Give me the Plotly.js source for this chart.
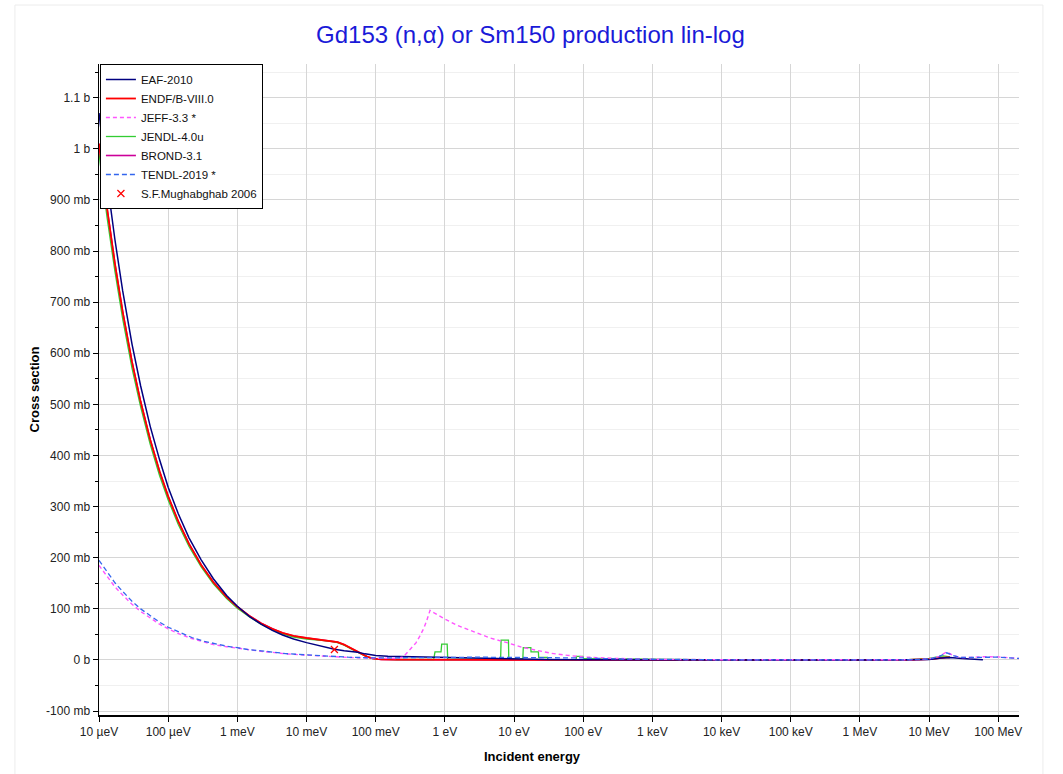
<!DOCTYPE html>
<html><head><meta charset="utf-8">
<script src="https://cdn.plot.ly/plotly-3.0.1.min.js"></script>
<style>html,body{margin:0;padding:0;background:#fff}#chart{width:1063px;height:774px}</style>
</head><body><div id="chart"></div>
<script>
// ---- data (energies in eV, cross sections in barns) ----
const xTickVals = [1e-5,1e-4,1e-3,1e-2,1e-1,1,10,100,1e3,1e4,1e5,1e6,1e7,1e8];
const xTickText = ['10 µeV','100 µeV','1 meV','10 meV','100 meV','1 eV','10 eV','100 eV','1 keV','10 keV','100 keV','1 MeV','10 MeV','100 MeV'];
const yTickVals = [-0.1,0,0.1,0.2,0.3,0.4,0.5,0.6,0.7,0.8,0.9,1.0,1.1];
const yTickText = ['-100 mb','0 b','100 mb','200 mb','300 mb','400 mb','500 mb','600 mb','700 mb','800 mb','900 mb','1 b','1.1 b'];

const eafE  = [1e-5,1.3e-5,1.7e-5,2.2e-5,3e-5,4e-5,5.5e-5,7.5e-5,1e-4,1.4e-4,2e-4,3e-4,4.5e-4,7e-4,1e-3,1.5e-3,2.2e-3,3.2e-3,4.5e-3,6.5e-3,1e-2,1.5e-2,2.53e-2,3.5e-2,4.5e-2,5.5e-2,7e-2,0.1,0.15,0.25,0.5,1,3,10,30,100,1e3,1e4,1e5,1e6,5e6,1e7,1.5e7,2e7,3e7,6e7];
const eafXS = [1.07,0.94,0.822,0.722,0.618,0.536,0.457,0.392,0.338,0.286,0.239,0.196,0.159,0.126,0.105,0.085,0.070,0.058,0.049,0.041,0.034,0.028,0.021,0.018,0.0165,0.015,0.012,0.009,0.0075,0.0068,0.006,0.005,0.0035,0.002,0.001,0.0005,0.0001,0,0,0,0.0003,0.0012,0.004,0.005,0.003,0.0005];

const endfE  = [1e-5,1.3e-5,1.7e-5,2.2e-5,3e-5,4e-5,5.5e-5,7.5e-5,1e-4,1.4e-4,2e-4,3e-4,4.5e-4,7e-4,1e-3,1.5e-3,2.2e-3,3.2e-3,4.5e-3,6.5e-3,1e-2,1.5e-2,2.2e-2,2.8e-2,3.5e-2,4.5e-2,5.5e-2,6.5e-2,7.5e-2,9e-2,0.12,0.2,0.5,1,10,100,1e3,1e4,1e5,1e6,5e6,1e7,1.4e7,1.8e7,2e7];
const endfXS = [1.01,0.886,0.775,0.681,0.583,0.505,0.431,0.369,0.320,0.271,0.227,0.186,0.152,0.123,0.104,0.086,0.072,0.061,0.053,0.047,0.043,0.040,0.038,0.035,0.030,0.022,0.016,0.010,0.0065,0.003,0.0012,0.0006,0.0003,0.0002,0.0001,0.00005,0,0,0,0,0.0004,0.0015,0.004,0.005,0.005];

const jeffE  = [1e-5,1.3e-5,1.7e-5,2.2e-5,3e-5,4e-5,5.5e-5,7.5e-5,1e-4,1.5e-4,2.2e-4,3.2e-4,4.5e-4,7e-4,1e-3,1.5e-3,2.2e-3,3.2e-3,5e-3,1e-2,2e-2,4e-2,0.1,0.2,0.25,0.31,0.38,0.44,0.5,0.55,0.61,0.7,0.8,1,1.5,2.6,4.5,7.9,13,21,35,60,100,300,1e3,1e4,1e5,1e6,5e6,1e7,1.4e7,1.8e7,2.2e7,2.8e7,4e7,6e7,1e8,2e8];
const jeffXS = [0.185,0.163,0.143,0.127,0.109,0.095,0.082,0.070,0.061,0.050,0.042,0.035,0.030,0.026,0.023,0.019,0.017,0.015,0.012,0.0095,0.007,0.005,0.0035,0.003,0.006,0.02,0.033,0.048,0.063,0.078,0.097,0.092,0.087,0.080,0.068,0.055,0.043,0.034,0.025,0.019,0.013,0.009,0.006,0.003,0.0015,0.0005,0.0002,0.0001,0.0004,0.002,0.007,0.016,0.009,0.005,0.005,0.0065,0.006,0.003];

const jendlE  = [1e-5,1.3e-5,1.7e-5,2.2e-5,3e-5,4e-5,5.5e-5,7.5e-5,1e-4,1.4e-4,2e-4,3e-4,4.5e-4,7e-4,1e-3,1.5e-3,2.2e-3,3.2e-3,4.5e-3,6.5e-3,1e-2,1.5e-2,2.2e-2,2.8e-2,3.5e-2,4.5e-2,5.5e-2,6.5e-2,7.5e-2,9e-2,0.12,0.2,0.3,0.69,0.72,0.88,0.9,1.08,1.1,3,6.4,6.5,8.3,8.4,13.4,13.6,17.5,17.6,22.5,22.7,30.5,31,45,79,80,99,101,200,500,1e3,1e4,1e5,1e6,5e6,1e7,1.3e7,1.6e7,2e7];
const jendlXS = [0.99,0.868,0.760,0.667,0.571,0.495,0.422,0.361,0.313,0.265,0.222,0.182,0.149,0.120,0.101,0.084,0.070,0.059,0.051,0.045,0.041,0.039,0.037,0.034,0.029,0.021,0.015,0.0095,0.006,0.003,0.0015,0.001,0.0008,0.001,0.016,0.016,0.031,0.031,0.001,0.0008,0.002,0.039,0.039,0.002,0.002,0.024,0.024,0.016,0.016,0.005,0.005,0.0005,0.001,0.0008,0.007,0.007,0.003,0.0025,0.001,0.0003,0,0,0,0.0008,0.003,0.006,0.008,0.006];

const brondE  = [1e-5,1.3e-5,1.7e-5,2.2e-5,3e-5,4e-5,5.5e-5,7.5e-5,1e-4,1.4e-4,2e-4,3e-4,4.5e-4,7e-4,1e-3,1.5e-3,2.2e-3,3.2e-3,4.5e-3,6.5e-3,1e-2,1.5e-2,2.2e-2,2.8e-2,3.5e-2,4.5e-2,5.5e-2,6.5e-2,7.5e-2,9e-2,0.12,0.2,0.5,1,10,100,1e3,1e4,1e5,1e6,5e6,1e7,1.4e7,1.8e7,2e7];
const brondXS = [1.01,0.886,0.775,0.681,0.583,0.505,0.431,0.369,0.320,0.271,0.227,0.186,0.152,0.123,0.104,0.086,0.072,0.061,0.053,0.047,0.043,0.040,0.038,0.035,0.030,0.022,0.016,0.010,0.0065,0.003,0.0012,0.0006,0.0003,0.0002,0.0001,0.00005,0,0,0,0,0.0004,0.0015,0.004,0.005,0.005];

const tendlE  = [1e-5,1.3e-5,1.7e-5,2.2e-5,3e-5,4e-5,5.5e-5,7.5e-5,1e-4,1.5e-4,2.2e-4,3.2e-4,4.5e-4,7e-4,1e-3,1.5e-3,2.2e-3,3.2e-3,5e-3,1e-2,2e-2,4e-2,0.1,0.3,1,3,10,30,100,300,1e3,1e4,1e5,1e6,5e6,1e7,1.4e7,1.8e7,2.2e7,2.8e7,4e7,6e7,1e8,2e8];
const tendlXS = [0.195,0.172,0.151,0.134,0.115,0.100,0.086,0.074,0.064,0.053,0.044,0.037,0.032,0.027,0.024,0.020,0.018,0.0155,0.0125,0.010,0.0075,0.0055,0.004,0.004,0.005,0.0055,0.005,0.0045,0.004,0.002,0.001,0.0003,0.0001,0.0001,0.0004,0.002,0.007,0.014,0.009,0.005,0.005,0.006,0.0055,0.003];

const mughE  = [0.0253];
const mughXS = [0.0205];

// ---- traces ----
const FONT = 'Liberation Sans, Arial, sans-serif';
function line(name, x, y, color, width, dash, rank){
  return {type:'scatter', mode:'lines', name, x, y, legendrank:rank,
          line:{color, width, dash: dash||'solid'}, hoverinfo:'skip'};
}
const traces = [
  line('BROND-3.1', brondE, brondXS, '#cc0099', 1.6, null, 5),
  line('JENDL-4.0u', jendlE, jendlXS, '#33cc33', 1.3, null, 4),
  line('ENDF/B-VIII.0', endfE, endfXS, '#ff0000', 1.8, null, 2),
  line('EAF-2010', eafE, eafXS, '#000080', 1.5, null, 1),
  line('JEFF-3.3 *', jeffE, jeffXS, '#ff55ff', 1.4, '4px,3px', 3),
  line('TENDL-2019 *', tendlE, tendlXS, '#3366ee', 1.3, '5px,3px', 6),
  {type:'scatter', mode:'markers', name:'S.F.Mughabghab 2006', x:mughE, y:mughXS, legendrank:7,
   marker:{symbol:'x-thin-open', size:7, color:'#ff0000', line:{color:'#ff0000', width:1.2}}, hoverinfo:'skip'}
];

const xr = [-5, 8.3];
const yr = [-0.1076, 1.1658];
const tickFont = {family:FONT, size:12, color:'#222'};

const layout = {
  width:1063, height:774,
  margin:{l:99, r:44, t:64, b:59, pad:0},
  paper_bgcolor:'#ffffff', plot_bgcolor:'#ffffff',
  font:{family:FONT, size:12, color:'#222'},
  title:{text:'Gd153 (n,α) or Sm150 production lin-log', font:{family:FONT, size:24, color:'#1a1ad8'},
         xref:'container', x:0.499, xanchor:'center', yref:'container', y:0.955, yanchor:'middle'},
  showlegend:true,
  legend:{x:0.001, y:1, xanchor:'left', yanchor:'top', bgcolor:'#ffffff', bordercolor:'#000', borderwidth:1,
          font:{family:FONT, size:11.5, color:'#111'}, traceorder:'normal'},
  xaxis:{type:'log', range:xr, tickmode:'array', tickvals:xTickVals, ticktext:xTickText,
         ticks:'outside', ticklen:5, tickwidth:1, tickcolor:'#000', tickfont:tickFont,
         showline:true, linecolor:'#000', linewidth:1.5, showgrid:true, gridcolor:'#d6d6d6', gridwidth:1,
         zeroline:false},
  yaxis:{range:yr, tickmode:'array', tickvals:yTickVals, ticktext:yTickText,
         ticks:'outside', ticklen:5, tickwidth:1, tickcolor:'#000', tickfont:tickFont,
         showline:true, linecolor:'#000', linewidth:1.5, showgrid:true, gridcolor:'#d6d6d6', gridwidth:1,
         zeroline:false,
         minor:{dtick:0.05, tick0:0, ticks:'outside', ticklen:3, tickcolor:'#000', showgrid:true, gridcolor:'#f0f0f0', gridwidth:1}},
  xaxis2:{type:'log', range:xr, overlaying:'x', side:'top', anchor:'y2', tickmode:'array', tickvals:xTickVals,
          ticks:'inside', ticklen:4, tickcolor:'#000', showticklabels:false, showgrid:false, zeroline:false,
          showline:true, linecolor:'#000', linewidth:1.2},
  yaxis2:{range:yr, overlaying:'y', side:'right', anchor:'x2', tickmode:'array', tickvals:yTickVals,
          ticks:'inside', ticklen:4, tickcolor:'#000', showticklabels:false, showgrid:false, zeroline:false,
          showline:true, linecolor:'#000', linewidth:1.2,
          minor:{dtick:0.05, tick0:0, ticks:'inside', ticklen:3, tickcolor:'#000', showgrid:false}},
  annotations:[
    {text:'<b>Cross section</b>', xref:'paper', yref:'paper', x:-0.0696, y:0.5, textangle:-90,
     showarrow:false, font:{family:FONT, size:13, color:'#000'}, xanchor:'center', yanchor:'middle'},
    {text:'<b>Incident energy</b>', xref:'paper', yref:'paper', x:0.471, y:-0.0645,
     showarrow:false, font:{family:FONT, size:13, color:'#000'}, xanchor:'center', yanchor:'middle'}
  ],
  shapes:[
    {type:'rect', xref:'paper', yref:'paper', x0:-0.0914, x1:1.026, y0:-0.1, y1:1.0906,
     line:{color:'#ececec', width:1}, fillcolor:'rgba(0,0,0,0)', layer:'below'}
  ]
};

Plotly.newPlot('chart', traces, layout, {staticPlot:true, displayModeBar:false});
</script>
</body></html>
